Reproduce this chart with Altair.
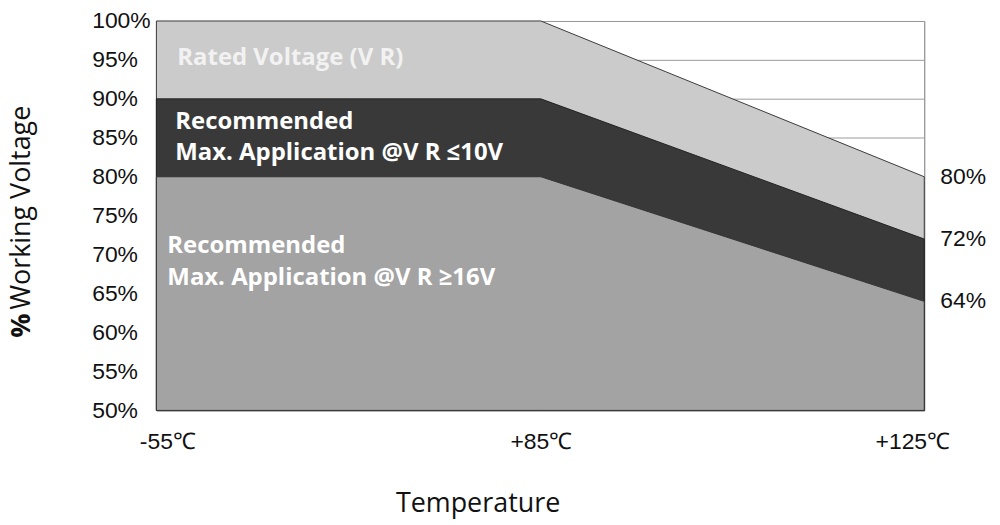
import altair as alt
import pandas as pd

temps = [-55, 85, 125]
rated = [100, 100, 80]
rec_le10 = [90, 90, 72]
rec_ge16 = [80, 80, 64]
end_values = [80, 72, 64]
end_labels = ["80%", "72%", "64%"]
y_ticks = [50, 55, 60, 65, 70, 75, 80, 85, 90, 95, 100]
x_ticks = [-55, 85, 125]

df = pd.DataFrame({"temp": temps, "rated": rated, "le10": rec_le10, "ge16": rec_ge16})
ends = pd.DataFrame({"temp": [temps[-1]] * 3, "val": end_values, "lab": end_labels})
one = pd.DataFrame({"k": [0]})

W, H = 771, 391
LABEL_FONT = "Liberation Sans"
TEXT_FONT = "Open Sans"

xscale = alt.Scale(domain=temps, range=[0, 386, W], nice=False, zero=False)
yscale = alt.Scale(domain=[50, 100], nice=False, zero=False)

xaxis = alt.Axis(
    values=x_ticks,
    labelExpr="(datum.value > 0 ? '+' : '') + datum.value + '℃'",
    labelFont=LABEL_FONT, labelFontSize=23, labelColor="#111",
    labelBaseline="middle", labelPadding=31, labelFlush=False, labelOverlap=False,
    labelOffset=alt.ExprRef("datum.value == -55 ? 11 : (datum.value == 125 ? -12 : 0)"),
    ticks=False, domain=False, grid=False, title=None,
)
yaxis = alt.Axis(
    values=y_ticks,
    labelExpr="datum.value + '%'",
    labelFont=LABEL_FONT, labelFontSize=23, labelColor="#111",
    labelAlign="left", labelPadding=65, labelOverlap=False, labelFlush=False,
    ticks=False, domain=False, grid=True, gridColor="#9a9a9a", gridWidth=1,
    title=None,
)

X = alt.X("temp:Q", scale=xscale, axis=xaxis)

light = alt.Chart(df).mark_area(color="#cbcbcb", stroke="#3a3a3a", strokeWidth=1).encode(
    x=X, y=alt.Y("rated:Q", scale=yscale, axis=yaxis), y2=alt.datum(50)
)
dark = alt.Chart(df).mark_area(color="#393939", stroke="#222", strokeWidth=1).encode(
    x=X, y=alt.Y("le10:Q", scale=yscale, axis=yaxis), y2=alt.datum(50)
)
mid = alt.Chart(df).mark_area(color="#a3a3a3", stroke="#333", strokeWidth=1).encode(
    x=X, y=alt.Y("ge16:Q", scale=yscale, axis=yaxis), y2=alt.datum(50)
)

end_text = alt.Chart(ends).mark_text(
    align="left", baseline="middle", dx=16, font=LABEL_FONT, fontSize=23, color="#111"
).encode(
    x=X,
    y=alt.Y("val:Q", scale=yscale, axis=yaxis),
    text="lab:N",
)


def note(txt, x, y, color="#ffffff", bold=True, size=24, angle=0, align="left",
         baseline="middle"):
    kw = dict(align=align, baseline=baseline, font=TEXT_FONT, fontSize=size,
              color=color, text=txt, fontWeight="bold" if bold else "normal")
    if angle:
        kw["angle"] = angle
    return alt.Chart(one).mark_text(**kw).encode(x=alt.value(x), y=alt.value(y))


notes = [
    note("Rated Voltage (V R)", 21, 37, color="#f2f2f2"),
    note("Recommended", 19, 101),
    note("Max. Application @V R ≤10V", 19, 133),
    note("Recommended", 11, 226),
    note("Max. Application @V R ≥16V", 11, 258),
    note("Temperature", 323, 493, color="#111", bold=False, size=27,
         align="center", baseline="alphabetic"),
    note("%", -135, 318, color="#111", bold=True, size=27, angle=270),
    note("Working Voltage", -135, 290, color="#111", bold=False, size=27, angle=270),
]

chart = alt.layer(light, dark, mid, end_text, *notes).properties(
    width=W, height=H,
    autosize=alt.AutoSizeParams(type="none"),
    padding={"left": 149, "top": 12, "right": 68, "bottom": 110},
    background="white",
).configure_view(stroke="#777", strokeWidth=1)

chart.save("out.html", embed_options={"renderer": "svg", "actions": False})
